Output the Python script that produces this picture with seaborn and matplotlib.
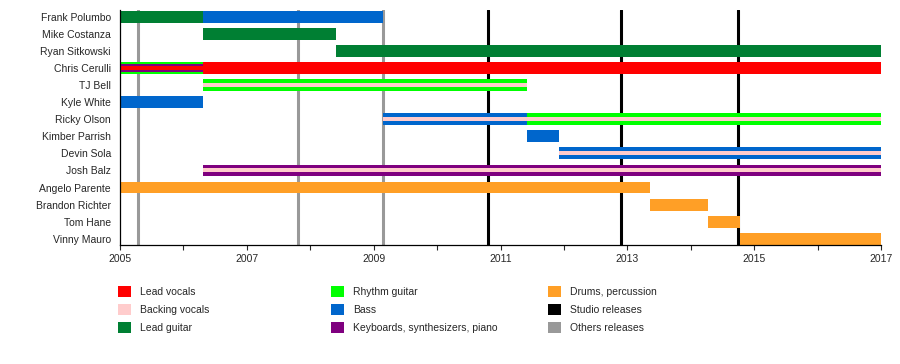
import numpy as np
import pandas as pd
import matplotlib.pyplot as plt
import seaborn as sns
from matplotlib.patches import Patch

# band members, top to bottom
members = ["Frank Polumbo", "Mike Costanza", "Ryan Sitkowski", "Chris Cerulli", "TJ Bell",
           "Kyle White", "Ricky Olson", "Kimber Parrish", "Devin Sola", "Josh Balz",
           "Angelo Parente", "Brandon Richter", "Tom Hane", "Vinny Mauro"]

# stints: member, start, end, main role, inner role, core role
stint_member = ["Frank Polumbo", "Frank Polumbo", "Mike Costanza", "Ryan Sitkowski",
                "Chris Cerulli", "Chris Cerulli", "TJ Bell", "Kyle White", "Ricky Olson",
                "Ricky Olson", "Kimber Parrish", "Devin Sola", "Josh Balz", "Angelo Parente",
                "Brandon Richter", "Tom Hane", "Vinny Mauro"]
stint_start = [2005.0, 2006.31, 2006.31, 2008.40, 2005.0, 2006.31, 2006.31, 2005.0, 2009.15,
               2011.42, 2011.42, 2011.93, 2006.31, 2005.0, 2013.36, 2014.27, 2014.77]
stint_end = [2006.31, 2009.15, 2008.40, 2017.0, 2006.31, 2017.0, 2011.42, 2006.31, 2011.42,
             2017.0, 2011.93, 2017.0, 2017.0, 2013.36, 2014.27, 2014.77, 2017.0]
stint_role = ["Lead guitar", "Bass", "Lead guitar", "Lead guitar", "Rhythm guitar", "Lead vocals",
              "Rhythm guitar", "Bass", "Bass", "Rhythm guitar", "Bass", "Bass",
              "Keyboards, synthesizers, piano", "Drums, percussion", "Drums, percussion",
              "Drums, percussion", "Drums, percussion"]
stint_inner = [None, None, None, None, "Keyboards, synthesizers, piano", None, None, None, None,
               None, None, None, None, None, None, None, None]
stint_core = [None, None, None, None, "Lead vocals", None, "Backing vocals", None,
              "Backing vocals", "Backing vocals", None, "Backing vocals", "Backing vocals",
              None, None, None, None]

studio_releases = [2010.80, 2012.90, 2014.74]
other_releases = [2005.28, 2007.81, 2009.15]

roles = ["Lead vocals", "Backing vocals", "Lead guitar", "Rhythm guitar", "Bass",
         "Keyboards, synthesizers, piano", "Drums, percussion"]
role_colors = ["#FF0000", "#FFCCCC", "#007F33", "#00FF00", "#0066CC", "#7F007F", "#FF9F26"]
palette = dict(zip(roles, role_colors))

df = pd.DataFrame({"member": stint_member, "start": stint_start, "end": stint_end,
                   "role": stint_role, "inner": stint_inner, "core": stint_core})
df["row"] = df["member"].map({m: i for i, m in enumerate(members)})

sns.set_style("white")
plt.rcParams["font.family"] = ["Liberation Sans", "DejaVu Sans"]
plt.rcParams["font.size"] = 7.5

fig = plt.figure(figsize=(9, 3.64), dpi=100)
ax = fig.add_axes([120 / 900, 1 - 245 / 364, 761 / 900, 235 / 364])

h = 0.7
for _, r in df.iterrows():
    w = r["end"] - r["start"]
    ax.barh(r["row"], w, left=r["start"], height=h, color=palette[r["role"]], zorder=3, linewidth=0)
    if r["inner"]:
        ax.barh(r["row"], w, left=r["start"], height=h * 2 / 3, color=palette[r["inner"]],
                zorder=4, linewidth=0)
    if r["core"]:
        ax.barh(r["row"], w, left=r["start"], height=h / 3, color=palette[r["core"]],
                zorder=5, linewidth=0)

for x in other_releases:
    ax.axvline(x, color="#999999", lw=2.2, zorder=1)
for x in studio_releases:
    ax.axvline(x, color="black", lw=2.2, zorder=1)

ax.set_xlim(2005, 2017)
ax.set_ylim(13.37, -0.41)
ax.set_yticks(range(len(members)))
ax.set_yticklabels(members)
ax.set_xticks(range(2005, 2018, 2))
ax.set_xticks(range(2005, 2018), minor=True)
ax.tick_params(axis="y", length=0, pad=6.5, labelsize=7.5)
ax.tick_params(axis="x", which="both", direction="out", length=3.5, width=0.8, pad=3,
               labelsize=7.5, bottom=True)
for s in ["top", "right"]:
    ax.spines[s].set_visible(False)
for s in ["left", "bottom"]:
    ax.spines[s].set_color("black")
    ax.spines[s].set_linewidth(0.9)
    ax.spines[s].set_zorder(6)

# legend, three columns
legend_items = [roles[:3], roles[3:6], [roles[6], "Studio releases", "Others releases"]]
extra = {"Studio releases": "black", "Others releases": "#999999"}
col_x = [118, 331, 548]
for xs, items in zip(col_x, legend_items):
    handles = [Patch(facecolor=palette.get(it, extra.get(it)), edgecolor="none", label=it)
               for it in items]
    fig.legend(handles=handles, loc="upper left", bbox_to_anchor=(xs / 900, 1 - 286 / 364),
               frameon=False, fontsize=7.5, handlelength=1.25, handleheight=1.25,
               handletextpad=0.85, labelspacing=0.65, borderpad=0, borderaxespad=0)

fig.savefig("out.png", dpi=100)
